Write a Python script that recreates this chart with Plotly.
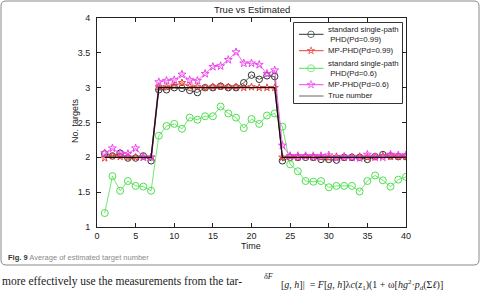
import plotly.graph_objects as go

time = list(range(1, 41))

true_number = [2]*7 + [3]*16 + [2]*17

std_pd099 = [2.05, 2.02, 2.06, 1.99, 1.99, 2.02, 1.95,
             2.97, 2.97, 3.00, 2.99, 2.96, 2.93, 3.00, 3.00, 3.02, 3.00, 3.00, 3.07, 3.18, 3.12, 3.17, 3.16,
             1.95, 2.00, 2.00, 2.00, 2.00, 1.97, 1.97, 1.96, 2.00, 2.00, 2.00, 1.97, 2.01, 2.04, 2.02, 2.01, 2.01]

mp_pd099 = [1.99, 2.02, 2.01, 2.00, 2.00, 2.00, 2.00,
            3.01, 3.01, 3.03, 3.07, 3.02, 3.01, 3.00, 3.01, 3.02, 3.01, 3.01, 3.00, 3.01, 3.00, 3.00, 3.00,
            2.00, 2.01, 2.00, 2.01, 2.00, 2.00, 2.00, 2.01, 2.00, 2.00, 2.01, 2.00, 2.01, 2.02, 2.01, 2.01, 2.01]

std_pd06 = [1.20, 1.73, 1.52, 1.66, 1.59, 1.58, 1.52,
            2.31, 2.45, 2.48, 2.41, 2.57, 2.54, 2.59, 2.59, 2.73, 2.63, 2.57, 2.42, 2.55, 2.48, 2.60, 2.63,
            2.44, 1.90, 1.80, 1.66, 1.65, 1.66, 1.57, 1.59, 1.59, 1.59, 1.51, 1.66, 1.74, 1.67, 1.58, 1.68, 1.72]

mp_pd06 = [2.06, 2.13, 2.06, 2.05, 2.13, 2.00, 2.00,
           3.08, 3.10, 3.11, 3.19, 3.11, 3.10, 3.20, 3.30, 3.31, 3.40, 3.51, 3.35, 3.35, 3.33, 3.20, 3.25,
           2.17, 2.02, 2.02, 2.02, 2.02, 2.02, 2.03, 1.99, 2.01, 2.00, 1.99, 2.04, 2.00, 2.00, 2.04, 2.03, 2.03]

series_names = ["standard single-path<br> PHD(Pd=0.99)", "MP-PHD(Pd=0.99)",
                "standard single-path<br> PHD(Pd=0.6)", "MP-PHD(Pd=0.6)", "True number"]

x_ticks = [0, 5, 10, 15, 20, 25, 30, 35, 40]
y_ticks = [1, 1.5, 2, 2.5, 3, 3.5, 4]
y_tick_text = ["1", "1.5", "2", "2.5", "3", "3.5", "4"]

W, H = 481, 291
L, R, T, B = 97, 75, 18, 64
PW, PH = W - L - R, H - T - B

def X(px):
    return (px - L) / PW

def Y(py):
    return (H - B - py) / PH

FONT = "Liberation Sans, Arial"
styles = [
    dict(line=dict(color="#333333", width=0.8),
         marker=dict(symbol="circle-open", size=6.5, color="#333333", line=dict(width=1))),
    dict(line=dict(color="#e8403c", width=1),
         marker=dict(symbol="star-open", size=5.5, color="#e8403c", line=dict(width=1))),
    dict(line=dict(color="#4ee04e", width=0.8),
         marker=dict(symbol="circle-open", size=7, color="#4ee04e", line=dict(width=1))),
    dict(line=dict(color="#ee44ee", width=0.8),
         marker=dict(symbol="star-open", size=6, color="#ee44ee", line=dict(width=1))),
    dict(line=dict(color="#111111", width=1.3)),
]
data = [std_pd099, mp_pd099, std_pd06, mp_pd06, true_number]

fig = go.Figure()
for i, ys in enumerate(data):
    mode = "lines" if i == 4 else "lines+markers"
    fig.add_trace(go.Scatter(x=time, y=ys, mode=mode, name=series_names[i],
                             showlegend=False, **styles[i]))

# ---- custom legend (pixel-based overlay axes, drawn above the data) ----
bx0, bx1, by0, by1 = 293.5, 402.5, 22.5, 103.5
fig.add_trace(go.Scatter(x=[bx0, bx1, bx1, bx0, bx0], y=[by0, by0, by1, by1, by0],
                         xaxis="x2", yaxis="y2", mode="lines", fill="toself",
                         fillcolor="white", line=dict(color="#333333", width=1),
                         showlegend=False, hoverinfo="skip", cliponaxis=False))
leg_rows = [34.3, 50.7, 68.3, 84.7, 96.0]
leg_text_rows = [(30.0, 39.3), (50.7,), (63.7, 73.3), (84.7,), (96.0,)]
leg_texts = [["standard single-path", " PHD(Pd=0.99)"], ["MP-PHD(Pd=0.99)"],
             ["standard single-path", " PHD(Pd=0.6)"], ["MP-PHD(Pd=0.6)"], ["True number"]]
for i, yrow in enumerate(leg_rows):
    st = styles[i]
    kw = dict(line=dict(color="#666666" if i == 4 else st["line"]["color"], width=1))
    if "marker" in st:
        kw["marker"] = dict(symbol=st["marker"]["symbol"], size=[0, st["marker"]["size"], 0],
                            color=st["marker"]["color"], line=st["marker"]["line"])
    fig.add_trace(go.Scatter(x=[299, 311, 323.5], y=[yrow]*3, xaxis="x2", yaxis="y2",
                             mode="lines+markers" if "marker" in st else "lines", showlegend=False,
                             hoverinfo="skip", cliponaxis=False, **kw))

axis_common = dict(showline=True, linecolor="#222222", linewidth=1, mirror="ticks",
                   ticks="inside", ticklen=4, tickcolor="#222222", showgrid=False, zeroline=False,
                   tickfont=dict(family=FONT, size=9, color="#222222"))

fig.update_xaxes(range=[0, 40], tickvals=x_ticks, **axis_common)
fig.update_yaxes(range=[1, 4], tickvals=y_ticks, ticktext=y_tick_text, ticklabelstandoff=4, **axis_common)

annotations = [
    dict(text="True vs Estimated", x=0.5, y=Y(9), xref="paper", yref="paper",
         showarrow=False, font=dict(family=FONT, size=9.5, color="#222222"),
         xanchor="center", yanchor="middle"),
    dict(text="Time", x=X(251), y=Y(245.5), xref="paper", yref="paper",
         showarrow=False, font=dict(family=FONT, size=9, color="#222222"),
         xanchor="center", yanchor="middle"),
    dict(text="No. targets", x=X(75), y=Y(121), xref="paper", yref="paper", textangle=-90,
         showarrow=False, font=dict(family=FONT, size=9, color="#222222"),
         xanchor="center", yanchor="middle"),
    dict(text="<b>Fig. 9</b> <span style='color:#8a8a8a'>Average of estimated target number</span>",
         x=X(6), y=Y(257), xref="paper", yref="paper", showarrow=False,
         font=dict(family=FONT, size=7.5, color="#333333"),
         xanchor="left", yanchor="middle"),
    dict(text="more effectively use the measurements from the tar-",
         x=X(0), y=Y(281), xref="paper", yref="paper", showarrow=False,
         font=dict(family="Liberation Serif, Times New Roman", size=11.5, color="#222222"),
         xanchor="left", yanchor="middle"),
    dict(text="<i>δF</i>",
         x=X(268), y=Y(276), xref="paper", yref="paper", showarrow=False,
         font=dict(family="Liberation Serif, Times New Roman", size=8, color="#222222"),
         xanchor="center", yanchor="middle"),
    dict(text="[<i>g</i>, <i>h</i>]|  = <i>F</i>[<i>g</i>, <i>h</i>]λ<i>c</i>(<i>z</i><sub>1</sub>)(1 + ω[<i>hg</i><sup>2</sup>·<i>p</i><sub>d</sub>(Σ<i>ℓ</i>)]",
         x=X(279), y=Y(284.5), xref="paper", yref="paper", showarrow=False,
         font=dict(family="Liberation Serif, Times New Roman", size=10, color="#222222"),
         xanchor="left", yanchor="middle"),
]
for rows, texts in zip(leg_text_rows, leg_texts):
    for yy, tt in zip(rows, texts):
        annotations.append(dict(text=tt, x=X(325.5), y=Y(yy), xref="paper", yref="paper",
                                showarrow=False, font=dict(family=FONT, size=7.8, color="#222222"),
                                xanchor="left", yanchor="middle"))

# rounded frame around figure + caption
x0, x1, y0, y1 = X(1), X(479), Y(1), Y(265)
rx, ry = 5 / PW, 5 / PH
path = (f"M {x0+rx},{y0} L {x1-rx},{y0} Q {x1},{y0} {x1},{y0-ry} "
        f"L {x1},{y1+ry} Q {x1},{y1} {x1-rx},{y1} "
        f"L {x0+rx},{y1} Q {x0},{y1} {x0},{y1+ry} "
        f"L {x0},{y0-ry} Q {x0},{y0} {x0+rx},{y0} Z")

fig.update_layout(
    width=W, height=H,
    margin=dict(l=L, r=R, t=T, b=B, autoexpand=False),
    paper_bgcolor="white", plot_bgcolor="white",
    showlegend=False,
    xaxis2=dict(overlaying="x", range=[L, W - R], visible=False, fixedrange=True),
    yaxis2=dict(overlaying="y", range=[H - B, T], visible=False, fixedrange=True),
    annotations=annotations,
    shapes=[dict(type="path", path=path, xref="paper", yref="paper",
                 line=dict(color="#8a8a8a", width=1), layer="below")],
)

fig.write_html("out.html")
